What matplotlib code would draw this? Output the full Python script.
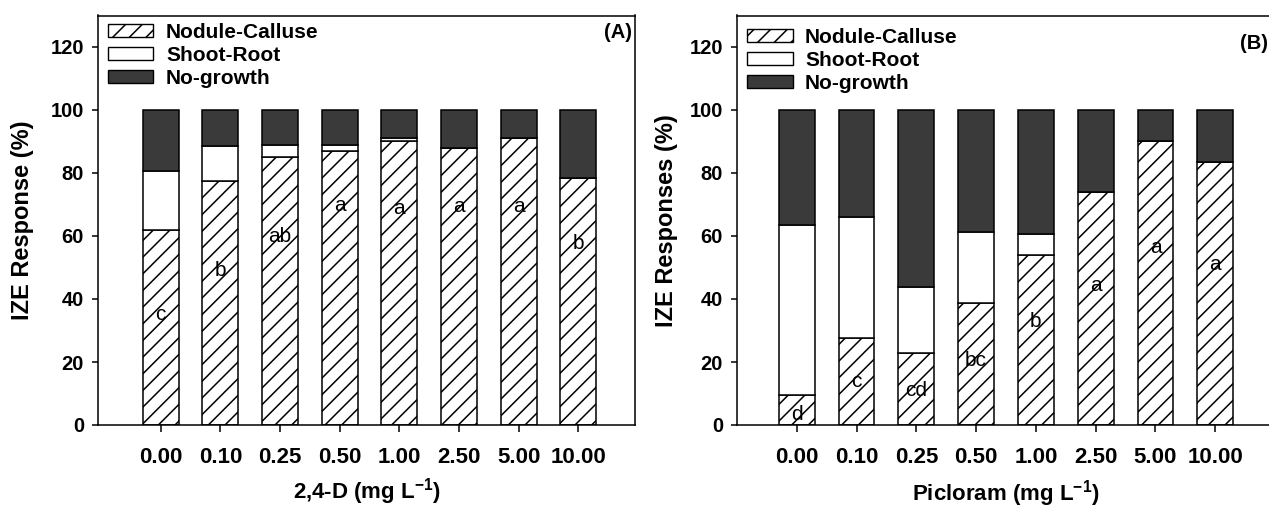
import matplotlib
matplotlib.use("Agg")
import matplotlib.pyplot as plt
import numpy as np
from matplotlib.patches import Patch

plt.rcParams['font.family'] = ['Liberation Sans', 'DejaVu Sans']
plt.rcParams['hatch.linewidth'] = 1.1
plt.rcParams['mathtext.fontset'] = 'custom'
plt.rcParams['mathtext.rm'] = 'Liberation Sans'
plt.rcParams['mathtext.bf'] = 'Liberation Sans:bold'

categories = ["0.00", "0.10", "0.25", "0.50", "1.00", "2.50", "5.00", "10.00"]

# Panel A (2,4-D)
a_nodule = [62, 77.5, 85, 87, 90, 88, 91, 78.5]
a_shoot = [18.5, 11, 4, 2, 1, 0, 0, 0]
a_letters = ["c", "b", "ab", "a", "a", "a", "a", "b"]
a_letter_y = [35, 49, 59.7, 69.8, 68.8, 69.3, 69.3, 57.5]

# Panel B (Picloram)
b_nodule = [9.5, 27.7, 22.8, 38.6, 54, 73.9, 90.2, 83.6]
b_shoot = [54, 38.4, 20.9, 22.6, 6.5, 0, 0, 0]
b_letters = ["d", "c", "cd", "bc", "b", "a", "a", "a"]
b_letter_y = [3.2, 13.8, 11.1, 20.6, 33, 44.4, 56.4, 51.1]

series_names = ["Nodule-Calluse", "Shoot-Root", "No-growth"]
dark = "#3a3a3a"

W, H = 1269, 507
fig = plt.figure(figsize=(W / 100, H / 100), dpi=100)
bot_px, top_px = 425, 15.5
axA = fig.add_axes([98 / W, 1 - bot_px / H, (635 - 98) / W, (bot_px - top_px) / H])
axB = fig.add_axes([737 / W, 1 - bot_px / H, (1275 - 737) / W, (bot_px - top_px) / H])


def draw(ax, nod, sho, letters, ly, xlabel, ylabel, tag, tagpos, xlim,
         ylab_x, xlab_y, leg_anchor):
    x = np.arange(len(categories))
    nod = np.array(nod, dtype=float)
    sho = np.array(sho, dtype=float)
    ng = 100 - nod - sho
    w = 0.6
    ax.bar(x, nod, w, color="white", edgecolor="black", hatch="//", linewidth=1.1)
    ax.bar(x, sho, w, bottom=nod, color="white", edgecolor="black", linewidth=1.1)
    ax.bar(x, ng, w, bottom=nod + sho, color=dark, edgecolor="black", linewidth=1.1)
    for xi, t, yy in zip(x, letters, ly):
        ax.text(xi, yy, t, ha="center", va="center", fontsize=15, color="black")
    ax.set_xlim(*xlim)
    ax.set_ylim(0, 130)
    ax.set_yticks(np.arange(0, 121, 20))
    ax.set_xticks(x)
    ax.set_xticklabels(categories)
    ax.tick_params(axis="x", direction="out", length=5, width=1.1, pad=10.5, labelsize=16)
    ax.tick_params(axis="y", direction="out", length=4, width=1.1, pad=6, labelsize=14.5)
    for lab in ax.get_xticklabels() + ax.get_yticklabels():
        lab.set_fontweight("bold")
    ax.set_xlabel(xlabel, fontsize=16, fontweight="bold")
    ax.set_ylabel(ylabel, fontsize=17, fontweight="bold")
    ax.yaxis.set_label_coords(ylab_x, 0.5)
    ax.xaxis.set_label_coords(0.5, xlab_y)
    for s in ax.spines.values():
        s.set_linewidth(1.1)
    handles = [Patch(facecolor="white", edgecolor="black", hatch="//"),
               Patch(facecolor="white", edgecolor="black"),
               Patch(facecolor=dark, edgecolor="black")]
    ax.legend(handles, series_names, loc="upper left", frameon=False,
              prop={"weight": "bold", "size": 15}, handlelength=2.2,
              handleheight=0.6, labelspacing=0.2, borderaxespad=0.0,
              borderpad=0.0, bbox_to_anchor=leg_anchor, handletextpad=0.6)
    ax.text(tagpos[0], tagpos[1], tag, transform=ax.transAxes, ha="right",
            va="center", fontsize=14.5, fontweight="bold")


draw(axA, a_nodule, a_shoot, a_letters, a_letter_y, r"2,4-D (mg L$^{\mathbf{-1}}$)",
     "IZE Response (%)", "(A)", (0.994, 0.958), (-1.05, 7.95),
     -0.119, -0.125, (0.018, 0.982))
draw(axB, b_nodule, b_shoot, b_letters, b_letter_y, r"Picloram (mg L$^{\mathbf{-1}}$)",
     "IZE Responses (%)", "(B)", (0.987, 0.932), (-1.0, 8.0),
     -0.110, -0.130, (0.018, 0.97))

fig.savefig("out.png", dpi=100)
